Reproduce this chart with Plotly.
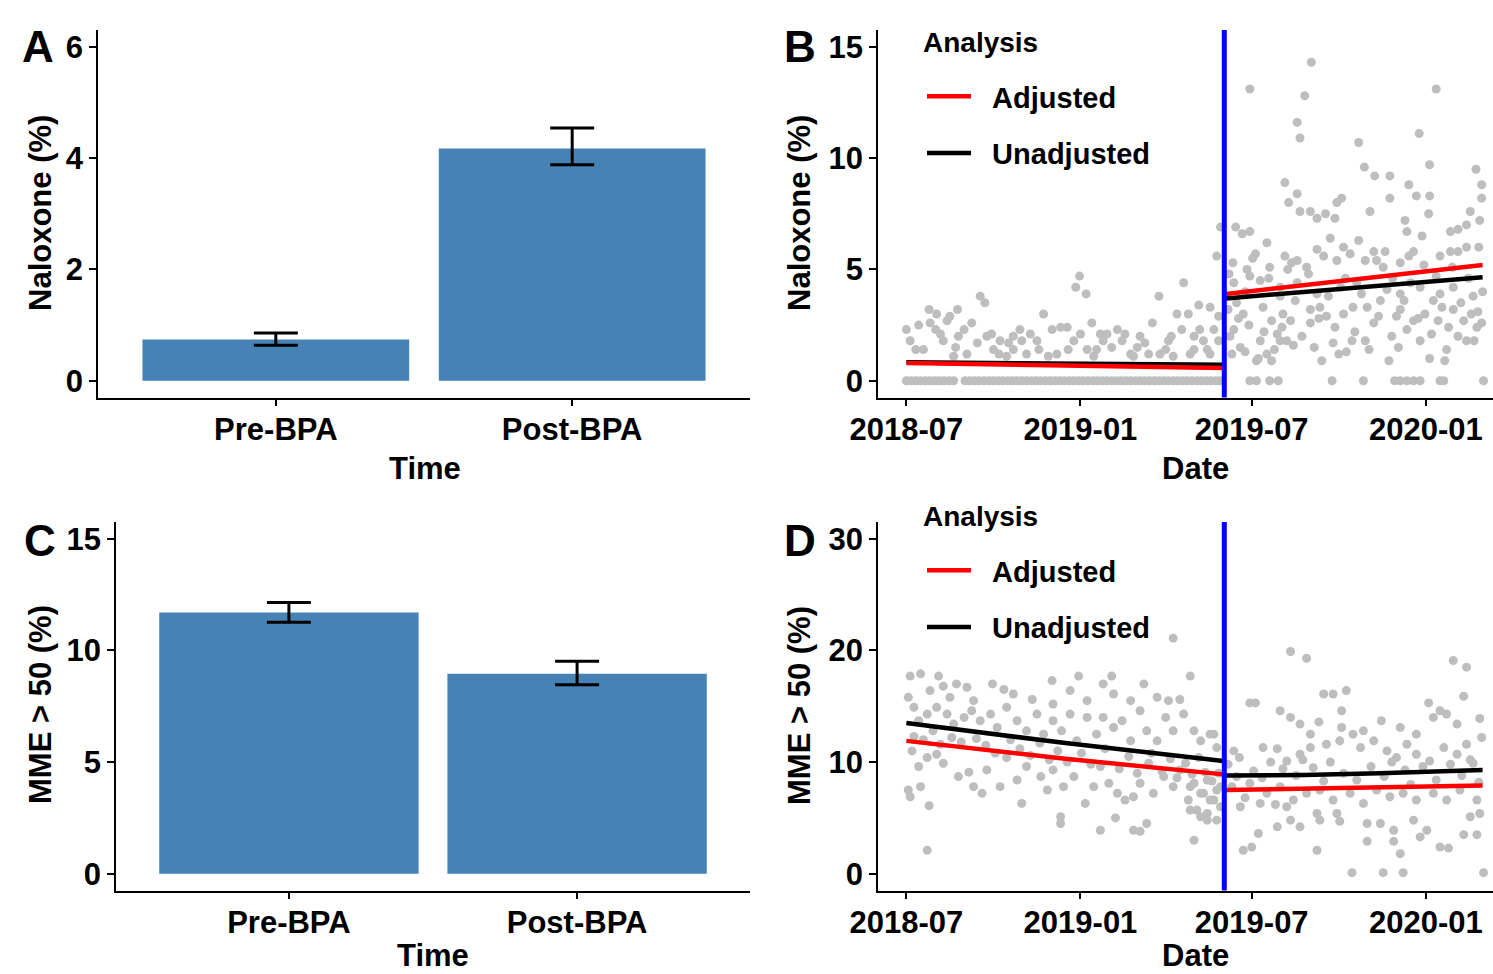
import pandas as pd
import plotly.graph_objects as go

W, H = 1493, 974
FONT = "Liberation Sans, Arial, Helvetica, sans-serif"

# ---------------- Panel A / C : bar charts ----------------
time_cats = ["Pre-BPA", "Post-BPA"]
naloxone_pct = [0.74, 4.17]
naloxone_lo = [0.64, 3.88]
naloxone_hi = [0.86, 4.54]
mme_pct = [11.7, 8.95]
mme_lo = [11.26, 8.46]
mme_hi = [12.15, 9.52]

# ---------------- Panel B : daily naloxone (%) ----------------
start_date = "2018-07-01"   # day 0
b_days = [0, 4, 13, 24, 25, 32, 36, 43, 46, 54, 55, 61, 64, 69, 78, 83, 85, 92, 99, 108,
          113, 122, 127, 131, 138, 145, 154, 163, 171, 179, 183, 190, 184, 196, 201, 208,
          212, 223, 231, 237, 244, 252, 260, 267, 274, 280, 286, 293, 298, 304, 309, 314,
          321, 328, 330, 332, 18, 50, 106, 159, 198, 240, 268, 304, 321,
          10, 31, 39, 52, 75, 90, 98, 113, 120, 140, 150, 170, 177, 191, 205, 217, 228,
          247, 256, 277, 282, 291, 300, 310, 318, 325, 330,
          # post
          363, 428, 421, 413, 416, 478, 542, 560, 553, 484, 495, 511, 531, 602, 608, 608,
          400, 404, 413, 416, 427, 434, 443, 455, 460, 453, 490, 511, 527, 539, 553, 552,
          529, 545, 575, 583, 592, 606, 596, 348, 355, 363,
          369, 381, 360, 363, 384, 400, 407, 413, 423, 434, 441, 455, 462, 469, 478, 485,
          494, 497, 504, 522, 531, 536, 564, 575, 583, 592, 605,
          346, 349, 356, 346, 353, 358, 370, 374, 381, 386, 392, 395, 402, 409, 377, 386,
          398, 395, 406, 427, 427, 437, 439, 444, 451, 453, 462, 465, 471, 472, 485, 487,
          494, 501, 510, 513, 518, 522, 529, 536, 543, 548, 553, 557, 562, 569, 573, 578,
          583, 589, 592, 597, 603, 608,
          374, 395, 413, 434, 459, 476, 508, 522, 543, 564, 578, 599, 340, 342, 344,
          341, 345, 351, 358, 362, 366, 372, 378, 383, 389, 397, 403, 411, 418, 425, 431,
          436, 446, 448, 457, 464, 474, 481, 489, 499, 506, 514, 520, 526, 533, 541, 547,
          555, 560, 566, 571, 577, 586, 594, 600, 604, 609]
b_vals = [2.3, 1.8, 2.5, 3.2, 2.6, 3.0, 2.1, 2.7, 2.9, 3.2, 2.0, 2.3, 1.2, 2.6, 3.8, 3.5, 2.0, 1.4, 1.8, 1.7,
          2.0, 1.8, 1.2, 2.1, 1.8, 3.0, 2.3, 2.4, 1.4, 4.2, 4.7, 3.9, 2.1, 2.6, 1.4, 1.8,
          2.1, 2.3, 2.1, 1.2, 1.5, 1.7, 2.6, 3.8, 1.4, 2.0, 3.0, 4.4, 3.0, 2.0, 3.4, 1.8,
          3.3, 5.6, 1.8, 6.9, 1.4, 1.1, 1.1, 1.2, 1.1, 1.1, 1.2, 1.4, 1.2,
          1.4, 2.3, 1.8, 1.5, 1.7, 2.1, 1.2, 1.4, 2.3, 1.4, 1.1, 2.4, 1.8, 1.4, 2.1, 1.5, 1.8,
          2.0, 1.2, 1.8, 1.1, 2.3, 1.2, 2.3, 1.4, 2.3, 2.9,
          # post
          13.1, 14.3, 12.8, 11.6, 10.9, 10.7, 11.1, 13.1, 9.7, 9.6, 9.2, 9.2, 8.8, 9.5, 8.8, 8.2,
          8.9, 8.0, 8.4, 7.6, 7.6, 7.3, 7.5, 8.0, 8.2, 7.3, 7.6, 8.2, 7.2, 8.3, 8.3, 7.5,
          6.7, 6.5, 6.7, 6.8, 7.0, 7.2, 7.6, 6.9, 6.6, 6.7,
          5.7, 6.2, 5.0, 4.7, 5.1, 5.6, 5.3, 5.4, 5.1, 5.9, 5.6, 5.4, 6.0, 5.7, 6.3, 5.4,
          5.8, 5.4, 5.1, 5.3, 5.6, 5.8, 5.6, 5.8, 5.8, 6.0, 6.0,
          4.4, 3.5, 3.0, 2.3, 1.5, 1.3, 0.9, 1.8, 1.2, 0.9, 2.1, 1.8, 1.8, 1.6, 3.3, 2.7,
          3.0, 3.8, 2.7, 2.6, 3.2, 3.3, 0.9, 2.9, 1.7, 2.4, 3.0, 1.3, 1.8, 3.3, 1.8, 3.3,
          2.6, 3.6, 0.9, 2.0, 2.9, 3.2, 2.3, 2.7, 1.8, 3.0, 1.0, 3.6, 2.7, 0.9, 2.4, 3.2,
          2.0, 2.7, 1.8, 3.0, 2.4, 2.6,
          4.5, 4.2, 4.4, 3.9, 4.2, 4.4, 4.1, 3.9, 4.2, 3.9, 4.2, 3.8, 3.2, 2.0, 1.2,
          4.8, 5.3, 2.8, 4.0, 2.5, 5.5, 1.0, 2.2, 4.6, 1.4, 2.4, 5.0, 3.6, 2.0, 4.8, 1.5,
          2.8, 3.8, 6.4, 1.2, 4.6, 2.2, 3.9, 1.4, 2.9, 5.8, 4.6, 1.5, 3.6, 4.4, 2.8, 5.2,
          2.1, 4.7, 3.3, 1.4, 5.1, 3.5, 4.6, 1.8, 3.1, 4.0]
b_zero_days = [0, 5, 10, 15, 20, 25, 30, 35, 40, 45, 50,
               62, 67, 72, 77, 82, 87, 92, 97, 102, 107, 112, 117, 122, 127, 132, 137, 142,
               147, 152, 157, 162, 167, 172, 177, 182, 187, 192, 197, 202, 207, 212, 217,
               222, 227, 232, 237, 242, 247, 252, 257, 262, 267, 272, 277, 282, 287, 292,
               297, 302, 307, 312, 317, 322, 327, 332,
               363, 370, 384, 393, 450, 483, 516, 522, 529, 536, 543, 564, 568, 610]

# fitted segmented-regression lines, panel B
b_fit_pre_days = [0, 335]
b_fit_post_days = [338, 609]
b_adj_pre = [0.80, 0.58]
b_unadj_pre = [0.83, 0.72]
b_adj_post = [3.90, 5.20]
b_unadj_post = [3.70, 4.65]

# ---------------- Panel D : daily MME > 50 (%) ----------------
d_days = [4, 15, 25, 34, 39, 46, 53, 64, 71, 91, 103, 113, 133, 154, 155, 173, 182, 191,
          208, 217, 219, 237, 251, 265, 277, 289, 300, 282,
          2, 8, 13, 22, 32, 43, 50, 61, 69, 78, 89, 96, 106, 117, 127, 138, 145, 155, 164,
          173, 180, 191, 201, 208, 219, 228, 237, 247, 254, 265, 274, 282, 293, 304, 311,
          321, 328,
          6, 13, 22, 32, 39, 55, 66, 71, 80, 85, 99, 106, 117, 127, 142, 149, 155, 166, 177,
          189, 198, 205, 214, 223, 231, 240, 247, 256, 261, 272, 282, 289, 298, 304, 311,
          318, 321, 328, 332,
          2, 4, 15, 24, 22, 122, 163, 163, 205, 221, 240, 247, 254, 304, 300, 311, 318,
          300, 307, 314, 318, 325, 332, 328,
          8, 18, 28, 36, 48, 58, 74, 84, 94, 110, 120, 131, 141, 151, 160, 170, 185, 195,
          210, 225, 235, 244, 259, 270, 279, 286, 295, 302, 309, 316, 323, 330,
          # post
          406, 423, 578, 592, 441, 451, 465, 363, 369, 460, 552, 589,
          395, 406, 416, 427, 436, 460, 483, 502, 522, 539, 557, 564, 571, 582, 606, 608,
          325, 346, 377, 392, 402, 416, 427, 444, 458, 472, 480, 494, 508, 518, 529, 539,
          553, 568, 582, 592, 599,
          349, 363, 381, 395, 409, 423, 437, 451, 469, 483, 497, 511, 525, 539, 557, 571,
          585, 603, 353, 374, 402, 434, 437, 455, 458, 487, 501, 515, 522, 515, 487, 536,
          550, 543, 564, 573, 589, 603, 356, 365, 372, 434, 471, 504, 525, 610, 392, 406,
          416, 596, 606,
          340, 344, 352, 358, 367, 376, 385, 390, 398, 412, 419, 430, 441, 448, 462, 476,
          491, 505, 513, 527, 533, 546, 560, 575, 587, 596, 605]
d_vals = [17.7, 17.9, 16.4, 17.7, 16.8, 15.8, 17.0, 16.7, 15.5, 17.0, 16.5, 16.1, 15.6, 17.3,
          15.2, 16.4, 17.7, 15.5, 17.0, 17.7, 16.1, 15.5, 17.0, 15.8, 15.5, 15.6, 17.7, 21.1,
          15.8, 14.9, 13.7, 14.3, 14.9, 14.3, 13.4, 14.0, 14.6, 13.7, 14.3, 13.1, 14.9, 13.7,
          12.8, 14.3, 12.5, 13.7, 12.8, 14.3, 11.9, 14.0, 12.5, 14.0, 13.1, 13.7, 11.9, 14.6,
          12.8, 11.9, 14.0, 12.8, 14.3, 12.8, 11.9, 12.5, 11.3,
          11.0, 9.6, 10.4, 10.7, 9.9, 8.7, 9.1, 7.8, 7.2, 9.3, 7.8, 10.4, 8.4, 9.6, 8.7, 7.5,
          9.3, 7.8, 8.7, 6.3, 7.8, 9.6, 8.1, 7.2, 6.6, 6.9, 8.1, 9.9, 7.2, 8.7, 7.8, 9.3,
          6.6, 8.1, 7.2, 8.4, 6.6, 7.5, 6.0,
          7.5, 6.9, 7.8, 6.1, 2.1, 6.3, 5.1, 4.5, 3.9, 5.0, 3.9, 3.8, 4.5, 3.0, 5.7, 5.1, 5.4,
          7.8, 5.7, 7.2, 4.8, 6.6, 7.8, 4.8,
          12.3, 12.0, 12.8, 11.6, 12.2, 11.8, 12.1, 11.5, 10.8, 12.0, 11.2, 10.6, 11.7, 10.2,
          11.0, 10.0, 10.8, 9.8, 11.2, 9.4, 10.5, 9.0, 10.8, 9.2, 10.3, 8.6, 9.9, 8.9, 10.4,
          9.1, 8.3, 9.0,
          # post
          19.9, 19.3, 19.1, 18.5, 16.1, 16.1, 16.4, 15.3, 15.3, 14.6, 15.3, 15.9,
          14.6, 14.0, 13.4, 12.5, 13.6, 13.1, 12.8, 13.7, 13.1, 12.5, 14.0, 14.6, 14.3, 13.4,
          13.9, 12.2,
          12.5, 11.0, 11.3, 11.2, 10.1, 10.7, 11.3, 11.6, 11.9, 12.5, 11.3, 11.9, 11.0, 10.4,
          11.6, 10.7, 10.1, 11.3, 10.7, 11.6, 9.9,
          8.7, 8.1, 7.2, 7.8, 6.6, 7.2, 7.5, 6.6, 7.2, 6.3, 7.5, 6.9, 7.2, 6.6, 7.2, 6.6,
          7.5, 6.6, 6.0, 6.3, 6.0, 5.4, 4.8, 5.4, 4.7, 4.5, 4.5, 3.9, 1.8, 2.9, 2.9, 4.8,
          3.9, 3.3, 2.4, 2.3, 3.5, 3.5, 2.1, 2.4, 3.6, 2.1, 0.1, 0.1, 0.1, 0.1, 4.2, 4.8,
          4.2, 5.1, 5.4,
          9.8, 7.8, 10.4, 6.8, 9.2, 8.6, 10.0, 6.2, 9.4, 8.8, 10.2, 9.5, 8.3, 10.0, 9.0, 8.4,
          9.6, 8.7, 10.0, 9.3, 8.0, 9.6, 8.4, 9.8, 8.8, 10.2, 8.2]

d_fit_pre_days = [0, 168, 335]
d_fit_post_days = [338, 420, 500, 609]
d_adj_pre = [11.9, 10.3, 8.9]
d_unadj_pre = [13.5, 11.7, 10.1]
d_adj_post = [7.5, 7.6, 7.75, 7.9]
d_unadj_post = [8.8, 8.85, 9.0, 9.3]

bpa_date = "2019-06-02"
date_ticks = ["2018-07-01", "2019-01-01", "2019-07-01", "2020-01-01"]
date_ticktext = ["2018-07", "2019-01", "2019-07", "2020-01"]
legend_names = ["Adjusted", "Unadjusted"]

base = pd.Timestamp(start_date)


def to_dates(days):
    return [base + pd.Timedelta(days=int(d)) for d in days]


RED, BLACK, GREY, BLUE, STEEL = "#FF0000", "#000000", "#BEBEBE", "#0000FF", "#4682B4"
NB = "\u00a0\u00a0"

fig = go.Figure()

# ---- A ----
fig.add_trace(go.Bar(
    x=time_cats, y=naloxone_pct, width=0.9, marker=dict(color=STEEL, line=dict(width=0)),
    error_y=dict(type="data", symmetric=False,
                 array=[h - v for h, v in zip(naloxone_hi, naloxone_pct)],
                 arrayminus=[v - l for v, l in zip(naloxone_pct, naloxone_lo)],
                 color="black", thickness=3, width=22),
    showlegend=False, xaxis="x", yaxis="y"))

# ---- C ----
fig.add_trace(go.Bar(
    x=time_cats, y=mme_pct, width=0.9, marker=dict(color=STEEL, line=dict(width=0)),
    error_y=dict(type="data", symmetric=False,
                 array=[h - v for h, v in zip(mme_hi, mme_pct)],
                 arrayminus=[v - l for v, l in zip(mme_pct, mme_lo)],
                 color="black", thickness=3, width=22),
    showlegend=False, xaxis="x3", yaxis="y3"))


def add_ts(xa, ya, days, vals, zero_days, fits, legend_id):
    pts_x = to_dates(days) + to_dates(zero_days)
    pts_y = list(vals) + [0.0] * len(zero_days)
    fig.add_trace(go.Scatter(x=pts_x, y=pts_y, mode="markers",
                             marker=dict(color=GREY, size=9, line=dict(width=0)),
                             showlegend=False, xaxis=xa, yaxis=ya, hoverinfo="skip"))
    (pre_d, post_d, adj_pre, unadj_pre, adj_post, unadj_post) = fits
    # black (unadjusted) beneath red (adjusted)
    for seg_d, seg_v, show in ((pre_d, unadj_pre, True), (post_d, unadj_post, False)):
        fig.add_trace(go.Scatter(x=to_dates(seg_d), y=seg_v, mode="lines",
                                 line=dict(color=BLACK, width=4.5), name=NB + legend_names[1],
                                 legendgroup=legend_id + "u", showlegend=show,
                                 legend=legend_id, legendrank=2, xaxis=xa, yaxis=ya))
    for seg_d, seg_v, show in ((pre_d, adj_pre, True), (post_d, adj_post, False)):
        fig.add_trace(go.Scatter(x=to_dates(seg_d), y=seg_v, mode="lines",
                                 line=dict(color=RED, width=4.5), name=NB + legend_names[0],
                                 legendgroup=legend_id + "a", showlegend=show,
                                 legend=legend_id, legendrank=1, xaxis=xa, yaxis=ya))


add_ts("x2", "y2", b_days, b_vals, b_zero_days,
       (b_fit_pre_days, b_fit_post_days, b_adj_pre, b_unadj_pre, b_adj_post, b_unadj_post),
       "legend")
add_ts("x4", "y4", d_days, d_vals, [],
       (d_fit_pre_days, d_fit_post_days, d_adj_pre, d_unadj_pre, d_adj_post, d_unadj_post),
       "legend2")


def px(x):
    return x / W


def py(y):
    return 1 - y / H


tickfont = dict(family=FONT, size=31, color="black", weight="bold")
ax_common = dict(showline=True, linecolor="black", linewidth=1.6, ticks="outside", ticklen=7,
                 tickwidth=1.6, tickcolor="black", showgrid=False, zeroline=False,
                 tickfont=tickfont, fixedrange=True)

date_range = ["2018-06-01", "2020-03-12"]

fig.update_layout(
    width=W, height=H, margin=dict(l=0, r=0, t=0, b=0),
    paper_bgcolor="white", plot_bgcolor="white", template="none",
    bargap=0.1,
    xaxis=dict(domain=[px(98), px(750)], anchor="y", type="category",
               range=[-0.6, 1.6], ticklabelstandoff=-4, **ax_common),
    yaxis=dict(domain=[py(397.5), py(30)], anchor="x", range=[-0.3, 6.3],
               tickvals=[0, 2, 4, 6], **ax_common),
    xaxis2=dict(domain=[px(878), px(1493)], anchor="y2", type="date", range=date_range,
                tickvals=date_ticks, ticktext=date_ticktext, ticklabelstandoff=-4,
                **ax_common),
    yaxis2=dict(domain=[py(397.5), py(30)], anchor="x2", range=[-0.75, 15.75],
                tickvals=[0, 5, 10, 15], **ax_common),
    xaxis3=dict(domain=[px(116), px(750)], anchor="y3", type="category",
                range=[-0.6, 1.6], ticklabelstandoff=-4, **ax_common),
    yaxis3=dict(domain=[py(890.5), py(522)], anchor="x3", range=[-0.75, 15.75],
                tickvals=[0, 5, 10, 15], **ax_common),
    xaxis4=dict(domain=[px(878), px(1493)], anchor="y4", type="date", range=date_range,
                tickvals=date_ticks, ticktext=date_ticktext, ticklabelstandoff=-4,
                **ax_common),
    yaxis4=dict(domain=[py(890.5), py(522)], anchor="x4", range=[-1.5, 31.5],
                tickvals=[0, 10, 20, 30], **ax_common),
)

leg_common = dict(font=dict(family=FONT, size=29, color="black", weight="bold"),
                  bgcolor="rgba(0,0,0,0)", borderwidth=0, xanchor="left", yanchor="top",
                  traceorder="grouped", tracegroupgap=16, itemwidth=44)
fig.update_layout(
    legend=dict(x=px(922), y=py(71), **leg_common),
    legend2=dict(x=px(922), y=py(545), **leg_common),
)

# vertical BPA line
for xr, yr in (("x2", "y2"), ("x4", "y4")):
    fig.add_shape(type="line", xref=xr, yref=yr + " domain", x0=bpa_date, x1=bpa_date,
                  y0=0, y1=1, line=dict(color=BLUE, width=5), layer="above")

annotations = []
letter_font = dict(family=FONT, size=44, color="black", weight="bold")
title_font = dict(family=FONT, size=31, color="black", weight="bold")
leg_title_font = dict(family=FONT, size=28, color="black", weight="bold")
for txt, x, y in (("A", 38, 47), ("B", 800, 47), ("C", 40, 540), ("D", 800, 540)):
    annotations.append(dict(text=txt, x=px(x), y=py(y), xref="paper", yref="paper",
                            showarrow=False, font=letter_font, xanchor="center",
                            yanchor="middle"))
for txt, x, y in (("Time", 425, 468), ("Date", 1195, 468), ("Time", 433, 955),
                  ("Date", 1195, 955)):
    annotations.append(dict(text=txt, x=px(x), y=py(y), xref="paper", yref="paper",
                            showarrow=False, font=title_font, xanchor="center",
                            yanchor="middle"))
for txt, x, y in (("Naloxone (%)", 40, 213), ("Naloxone (%)", 799, 213),
                  ("MME > 50 (%)", 40, 705), ("MME > 50 (%)", 799, 705)):
    annotations.append(dict(text=txt, x=px(x), y=py(y), xref="paper", yref="paper",
                            showarrow=False, font=title_font, textangle=-90,
                            xanchor="center", yanchor="middle"))
for y in (42, 516):
    annotations.append(dict(text="Analysis", x=px(921), y=py(y), xref="paper", yref="paper",
                            showarrow=False, font=leg_title_font, xanchor="left",
                            yanchor="middle"))
fig.update_layout(annotations=annotations)

fig.write_html("out.html", config={"displayModeBar": False},
               post_script="document.body.style.margin='0px';")
